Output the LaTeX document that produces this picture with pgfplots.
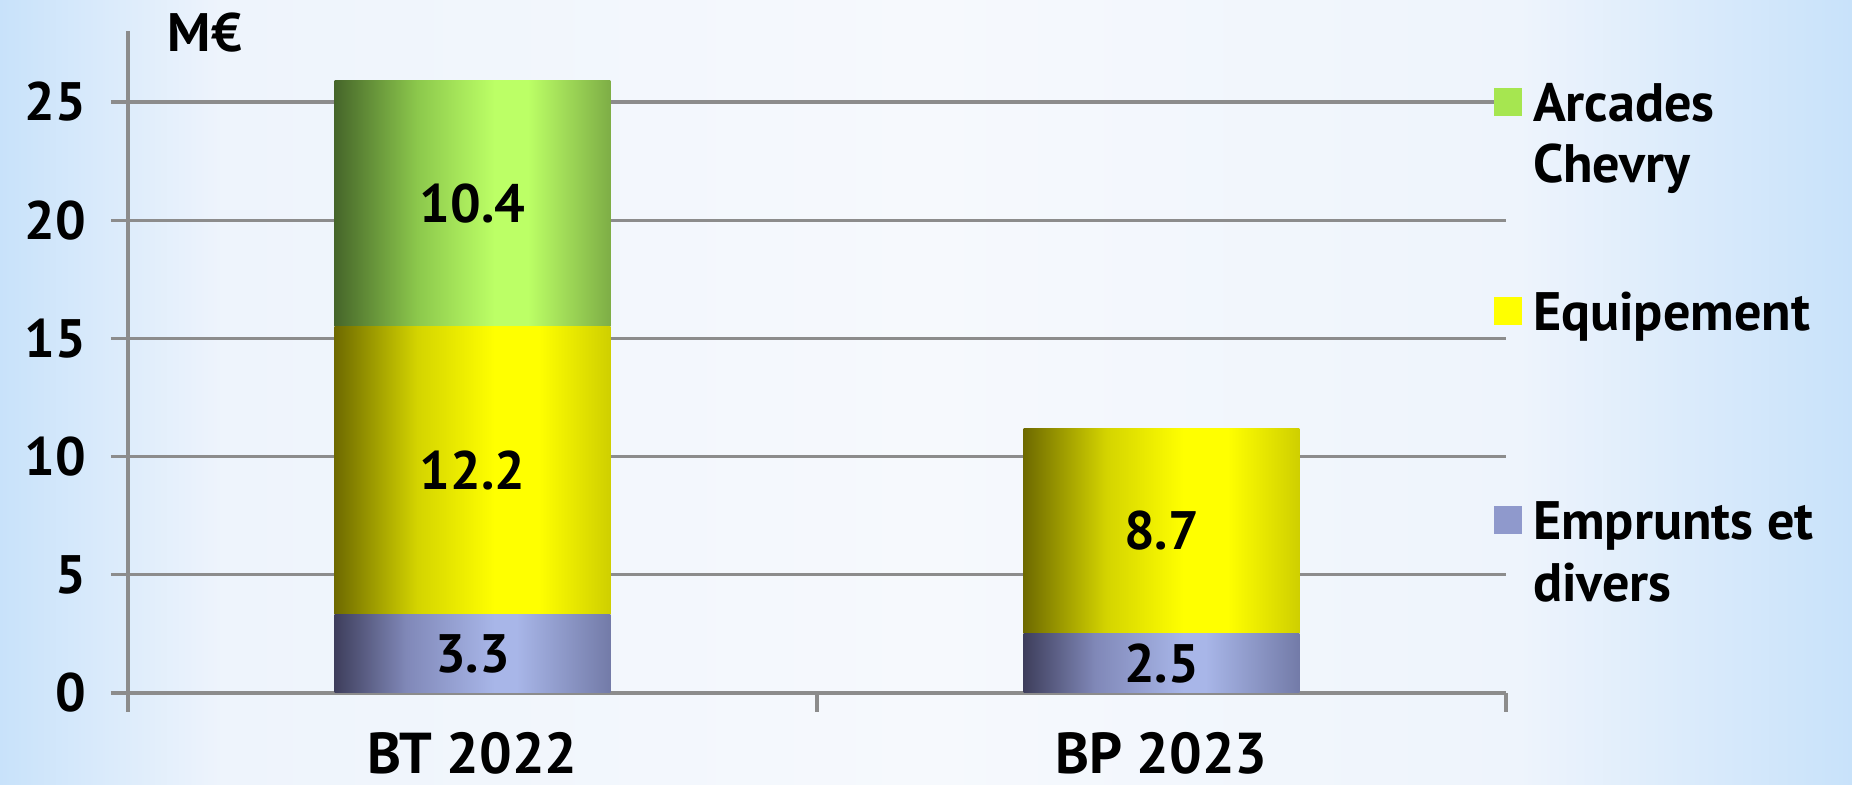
\documentclass[border=0pt]{standalone}
\usepackage{fontspec}
\setmainfont{PT Sans}
\usepackage{pgfplots}
\usepackage{pgfplotstable}
\pgfplotsset{compat=1.18}

\definecolor{bgedge}{HTML}{C8E2FA}
\definecolor{bgmid}{HTML}{EEF4FC}
\definecolor{bgmid2}{HTML}{F6F9FD}
\definecolor{gA}{HTML}{46662A}
\definecolor{gB}{HTML}{8CC84C}
\definecolor{gC}{HTML}{BCFF66}
\definecolor{gD}{HTML}{7EAE46}
\definecolor{yA}{HTML}{6E6A00}
\definecolor{yB}{HTML}{D4D400}
\definecolor{yC}{HTML}{FFFF00}
\definecolor{yD}{HTML}{CFCF00}
\definecolor{bA}{HTML}{3E3E5C}
\definecolor{bB}{HTML}{8088B8}
\definecolor{bC}{HTML}{A8B6E8}
\definecolor{bD}{HTML}{737BA8}
\definecolor{legG}{HTML}{A6E650}
\definecolor{legY}{HTML}{FFFF00}
\definecolor{legB}{HTML}{8F99CC}
\definecolor{gridgray}{HTML}{8C8C8C}

\pgfdeclarehorizontalshading{bgshade}{100bp}{color(0bp)=(bgedge); color(25bp)=(bgedge); color(31bp)=(bgmid); color(50bp)=(bgmid2); color(66bp)=(bgmid); color(75bp)=(bgedge); color(100bp)=(bgedge)}
\pgfdeclarehorizontalshading{greenbar}{100bp}{color(0bp)=(gA); color(25bp)=(gA); color(40bp)=(gB); color(54bp)=(gC); color(60bp)=(gC); color(75bp)=(gD); color(100bp)=(gD)}
\pgfdeclarehorizontalshading{yellowbar}{100bp}{color(0bp)=(yA); color(25bp)=(yA); color(40bp)=(yB); color(54bp)=(yC); color(62bp)=(yC); color(75bp)=(yD); color(100bp)=(yD)}
\pgfdeclarehorizontalshading{bluebar}{100bp}{color(0bp)=(bA); color(25bp)=(bA); color(38bp)=(bB); color(54bp)=(bC); color(58bp)=(bC); color(75bp)=(bD); color(100bp)=(bD)}

% BT 2022 (x = 0)
\pgfplotstableread{
x emp equ arc
0 3.3 12.2 10.4
}\tabBT
% BP 2023 (x = 1)
\pgfplotstableread{
x emp equ
1 2.5 8.7
}\tabBP

\pgfplotsset{
  base/.style={at={(1.28cm,0.92cm)}, anchor=south west,
    scale only axis, width=13.78cm, height=6.62cm,
    xmin=-0.5, xmax=1.5, ymin=0, ymax=28,
    ybar stacked, bar width=0.4},
  seg/.style={draw=none, shade, shading=#1,
    point meta=explicit symbolic, nodes near coords,
    every node near coord/.append style={text=black, inner sep=0pt}},
  legsq/.style={legend image code/.code={\pgfsetfillcolor{#1}\pgfpathrectangle{\pgfpoint{0cm}{0.05cm}}{\pgfpoint{0.28cm}{0.28cm}}\pgfusepath{fill}}},
}

\begin{document}
\fontsize{15.4pt}{17.6pt}\selectfont\bfseries
\begin{tikzpicture}
\path[use as bounding box] (0,0) rectangle (18.52,7.85);
\shade[shading=bgshade] (0,0) rectangle (18.52,7.85);
\begin{axis}[
  base,
  axis x line*=bottom, axis y line*=left,
  axis line style={gridgray, line width=0.9pt},
  xtick={0,1}, xticklabels={BT 2022, BP 2023},
  minor xtick={-0.5,0.5,1.5},
  major x tick style={draw=none},
  minor x tick style={gridgray, line width=0.9pt},
  tick align=outside,
  minor tick length=0.19cm,
  major tick length=0.17cm,
  ytick={0,5,10,15,20,25},
  ytick style={gridgray, line width=0.9pt},
  ymajorgrids, major grid style={gridgray, line width=0.9pt},
  /pgf/number format/assume math mode=true,
  yticklabel style={anchor=east, inner sep=0pt, xshift=-0.24cm},
  xticklabel style={anchor=base, inner sep=0pt, text depth=0pt, yshift=-0.64cm, font=\fontsize{16.4pt}{19pt}\selectfont\bfseries},
  reverse legend,
  legend style={at={(axis description cs:0.9913,0.9426)}, anchor=north west,
    draw=none, fill=none, inner sep=0pt, outer sep=0pt,
    row sep=1.42cm, column sep=0.04cm,
    cells={anchor=base west, inner sep=0pt, text height=0.45cm, text depth=0.1cm}},
]
\addplot[seg=bluebar, legsq=legB] table[x=x, y=emp, meta=emp] {\tabBT};
\addlegendentry{\smash{\begin{tabular}[t]{@{}l@{}}Emprunts et\\divers\end{tabular}}}
\addplot[seg=yellowbar, legsq=legY] table[x=x, y=equ, meta=equ] {\tabBT};
\addlegendentry{Equipement}
\addplot[seg=greenbar, legsq=legG] table[x=x, y=arc, meta=arc] {\tabBT};
\addlegendentry{\smash{\begin{tabular}[t]{@{}l@{}}Arcades\\Chevry\end{tabular}}}
\end{axis}
\begin{axis}[base, hide axis]
\addplot[seg=bluebar] table[x=x, y=emp, meta=emp] {\tabBP};
\addplot[seg=yellowbar] table[x=x, y=equ, meta=equ] {\tabBP};
\end{axis}
\node[anchor=base west, inner sep=0pt] at (1.67,7.33) {M€};
\end{tikzpicture}
\end{document}
